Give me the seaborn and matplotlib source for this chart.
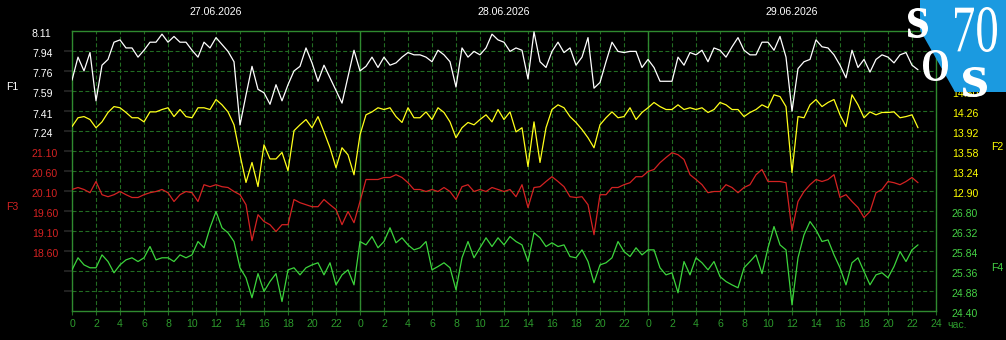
import matplotlib
matplotlib.use("Agg")
import matplotlib.pyplot as plt
import matplotlib.transforms as mtransforms
from matplotlib.font_manager import FontProperties
from matplotlib.patches import PathPatch, Polygon
from matplotlib.textpath import TextPath
import numpy as np
import seaborn as sns

# --- data (half-hour readings over three days) ---
dates = ["27.06.2026", "28.06.2026", "29.06.2026"]

f1 = [7.68, 7.88, 7.76, 7.92, 7.50, 7.81, 7.86, 8.01, 8.03, 7.96, 7.96, 7.88, 7.94, 8.01, 8.01, 8.08,
      8.01, 8.06, 8.01, 8.01, 7.94, 7.88, 8.01, 7.96, 8.05, 7.99, 7.93, 7.84, 7.29, 7.55, 7.80, 7.60,
      7.57, 7.47, 7.64, 7.50,
      7.64, 7.76, 7.80, 7.96, 7.83, 7.67, 7.81, 7.70, 7.59, 7.48, 7.71, 7.94, 7.76, 7.80, 7.88, 7.79,
      7.88, 7.81, 7.83, 7.88, 7.92, 7.90, 7.90, 7.88, 7.84, 7.94, 7.90, 7.84, 7.62, 7.96, 7.88, 7.93,
      7.90, 7.96, 8.08, 8.03,
      8.01, 7.93, 7.96, 7.94, 7.69, 8.10, 7.84, 7.79, 7.93, 8.01, 7.92, 7.96, 7.81, 7.88, 8.05, 7.61,
      7.66, 7.84, 8.01, 7.93, 7.92, 7.93, 7.93, 7.79, 7.86, 7.79, 7.67, 7.67, 7.67, 7.88, 7.81, 7.92,
      7.90, 7.94, 7.84, 7.96,
      7.94, 7.88, 7.97, 8.05, 7.94, 7.90, 7.90, 8.01, 8.01, 7.94, 8.06, 7.88, 7.41, 7.78, 7.84, 7.86,
      8.03, 7.97, 7.96, 7.90, 7.81, 7.70, 7.94, 7.79, 7.86, 7.75, 7.86, 7.90, 7.88, 7.83, 7.90, 7.92,
      7.81, 7.77]

f2 = [13.99, 14.14, 14.16, 14.11, 13.97, 14.07, 14.23, 14.33, 14.31, 14.23, 14.14, 14.14, 14.07, 14.24,
      14.24, 14.28, 14.31, 14.16, 14.28, 14.16, 14.14, 14.31, 14.31, 14.28, 14.45, 14.36, 14.24, 14.02,
      13.51, 13.04, 13.38, 12.97, 13.68, 13.44, 13.44, 13.55,
      13.24, 13.92, 14.02, 14.11, 13.97, 14.16, 13.90, 13.63, 13.29, 13.63, 13.51, 13.17, 13.85, 14.19,
      14.24, 14.31, 14.28, 14.31, 14.16, 14.06, 14.31, 14.14, 14.14, 14.24, 14.11, 14.31, 14.23, 14.07,
      13.80, 13.97, 14.06, 14.02, 14.11, 14.19, 14.07, 14.28,
      14.11, 14.24, 13.90, 13.97, 13.31, 14.07, 13.38, 13.97, 14.28, 14.36, 14.31, 14.16, 14.06, 13.94,
      13.80, 13.63, 14.02, 14.14, 14.24, 14.14, 14.16, 14.31, 14.11, 14.23, 14.31, 14.40, 14.33, 14.28,
      14.28, 14.36, 14.28, 14.31, 14.28, 14.31, 14.23, 14.28,
      14.40, 14.36, 14.28, 14.28, 14.16, 14.23, 14.28, 14.36, 14.31, 14.53, 14.50, 14.33, 13.21, 14.16,
      14.14, 14.36, 14.45, 14.33, 14.40, 14.45, 14.19, 13.99, 14.53, 14.36, 14.14, 14.24, 14.19, 14.23,
      14.23, 14.24, 14.14, 14.16, 14.19, 13.97]

f3 = [20.13, 20.18, 20.13, 20.05, 20.33, 20.00, 19.95, 20.00, 20.08, 20.00, 19.93, 19.93, 20.00, 20.05,
      20.08, 20.13, 20.05, 19.83, 20.00, 20.08, 20.05, 19.83, 20.25, 20.20, 20.25, 20.20, 20.18, 20.08,
      20.00, 19.75, 18.85, 19.50, 19.33, 19.25, 19.08, 19.25,
      19.25, 19.88, 19.80, 19.75, 19.70, 19.70, 19.88, 19.75, 19.63, 19.25, 19.58, 19.30, 19.83, 20.38,
      20.38, 20.38, 20.43, 20.43, 20.50, 20.43, 20.30, 20.13, 20.13, 20.08, 20.13, 20.08, 20.18, 20.08,
      19.88, 20.20, 20.25, 20.08, 20.13, 20.08, 20.18, 20.13,
      20.08, 20.13, 19.95, 20.25, 19.68, 20.18, 20.20, 20.33, 20.45, 20.33, 20.20, 19.95, 19.93, 19.95,
      19.75, 19.00, 20.00, 20.00, 20.18, 20.18, 20.25, 20.30, 20.45, 20.45, 20.58, 20.63, 20.80, 20.93,
      21.05, 21.00, 20.88, 20.50, 20.38, 20.25, 20.05, 20.08,
      20.08, 20.25, 20.18, 20.05, 20.18, 20.25, 20.50, 20.63, 20.33, 20.33, 20.33, 20.30, 19.10, 19.83,
      20.08, 20.25, 20.38, 20.33, 20.38, 20.50, 19.93, 20.00, 19.83, 19.68, 19.43, 19.58, 20.05, 20.13,
      20.33, 20.30, 20.25, 20.33, 20.43, 20.30]

f4 = [25.38, 25.67, 25.50, 25.43, 25.43, 25.74, 25.58, 25.31, 25.50, 25.62, 25.67, 25.58, 25.67, 25.94,
      25.62, 25.67, 25.67, 25.58, 25.74, 25.67, 25.74, 26.06, 25.91, 26.39, 26.78, 26.39, 26.27, 26.06,
      25.43, 25.19, 24.71, 25.29, 24.86, 25.10, 25.29, 24.62,
      25.38, 25.43, 25.26, 25.43, 25.50, 25.55, 25.26, 25.55, 25.02, 25.26, 25.38, 25.02, 26.06, 25.98,
      26.18, 25.91, 26.06, 26.39, 26.03, 26.15, 25.98, 25.86, 25.91, 26.06, 25.38, 25.46, 25.55, 25.43,
      24.90, 25.67, 26.06, 25.67, 25.91, 26.15, 25.94, 26.15,
      25.98, 26.18, 26.06, 25.98, 25.58, 26.27, 26.15, 25.94, 26.03, 25.94, 25.98, 25.70, 25.67, 25.86,
      25.58, 25.07, 25.50, 25.55, 25.67, 26.06, 25.82, 25.70, 25.91, 25.74, 25.86, 25.86, 25.43, 25.26,
      25.31, 24.83, 25.58, 25.26, 25.67, 25.55, 25.38, 25.58,
      25.22, 25.10, 25.02, 24.95, 25.43, 25.58, 25.74, 25.29, 25.91, 26.42, 25.98, 25.86, 24.54, 25.67,
      26.22, 26.54, 26.34, 26.06, 26.10, 25.74, 25.43, 25.02, 25.55, 25.67, 25.34, 25.02, 25.26, 25.31,
      25.19, 25.46, 25.82, 25.58, 25.86, 25.98]

f1_ticks = [8.11, 7.94, 7.76, 7.59, 7.41, 7.24]
f3_ticks = [21.10, 20.60, 20.10, 19.60, 19.10, 18.60]
f2_ticks = [14.60, 14.26, 13.92, 13.58, 13.24, 12.90]
f4_ticks = [26.80, 26.32, 25.84, 25.36, 24.88, 24.40]
hour_ticks = list(range(0, 73, 2))
hour_labels = [str(h % 24) for h in hour_ticks[:-1]] + ["24"]

# --- colours ---
GRID = "#226c22"
FRAME = "#2f8a2f"
XLAB = "#2c9a2c"
C1, C2, C3, C4 = "#ffffff", "#ffff1a", "#d42222", "#3cd43c"
L2, L3, L4 = "#ffff00", "#d42222", "#44d044"

sns.set_theme(style="dark", rc={"axes.facecolor": "black", "figure.facecolor": "black"})
plt.rcParams["font.family"] = ["Liberation Sans", "DejaVu Sans"]

fig = plt.figure(figsize=(10.06, 3.40), dpi=100)
ax = fig.add_axes([72 / 1006, 29.3 / 340, 864 / 1006, 280 / 340])
ax.set_facecolor("black")
ax.set_ylim(14, 0)
ax.set_yticks(range(1, 14))
ax.tick_params(axis="y", left=False, labelleft=False, right=False)
ax.set_xticks(hour_ticks)
ax.set_xticklabels(hour_labels)
ax.tick_params(axis="x", bottom=True, direction="out", length=2.8, width=0.8, color=GRID,
               pad=3.3, labelsize=7.6, labelcolor=XLAB)
ax.grid(True, color=GRID, linestyle=(0, (3.6, 2.2)), linewidth=0.8)
for sp in ax.spines.values():
    sp.set_color(FRAME)
    sp.set_linewidth(1.0)
for d in (24, 48):
    ax.axvline(d, color=FRAME, linewidth=1.0)

shift = mtransforms.ScaledTranslation(0, -2.5 / 100, fig.dpi_scale_trans)


def series_axis(values, lo, hi, ticks, line_color, label_color, side):
    tw = ax.twinx()
    hrs = np.arange(len(values)) * 0.5
    sns.lineplot(x=hrs, y=values, ax=tw, color=line_color, linewidth=0.9)
    tw.set_ylim(lo, hi)
    tw.set_yticks(ticks)
    tw.set_yticklabels([f"{t:.2f}" for t in ticks])
    tw.set_ylabel("")
    tw.grid(False)
    for sp in tw.spines.values():
        sp.set_visible(False)
    if side == "left":
        tw.yaxis.tick_left()
        tw.tick_params(axis="y", length=0, pad=28.8, labelsize=7.6, labelcolor=label_color)
        for lbl in tw.get_yticklabels():
            lbl.set_ha("left")
            lbl.set_transform(lbl.get_transform() + shift)
    else:
        tw.tick_params(axis="y", length=0, pad=11.5, labelsize=7.6, labelcolor=label_color)
        for lbl in tw.get_yticklabels():
            lbl.set_transform(lbl.get_transform() + shift)
    return tw


series_axis(f1, 8.11 - 14 * 0.174, 8.11, f1_ticks, C1, C1, "left")
series_axis(f3, 17.10, 24.10, f3_ticks, C3, L3, "left")
series_axis(f2, 10.86, 15.62, f2_ticks, C2, L2, "right")
series_axis(f4, 24.40, 31.12, f4_ticks, C4, L4, "right")
ax.set_xlim(0, 72)

# day captions above the grid
for i, d in enumerate(dates):
    ax.text(12 + 24 * i, 1.0668, d, transform=ax.get_xaxis_transform(), color="white",
            fontsize=7.6, ha="center", va="center")

fig.text(6 / 1006, 1 - 87 / 340, "F1", color=C1, fontsize=7.6, va="center")
fig.text(6 / 1006, 1 - 207 / 340, "F3", color=L3, fontsize=7.6, va="center")
fig.text(991 / 1006, 1 - 147 / 340, "F2", color=L2, fontsize=7.6, va="center")
fig.text(991 / 1006, 1 - 268 / 340, "F4", color=L4, fontsize=7.6, va="center")
fig.text(947 / 1006, 1 - 325 / 340, "час.", color=XLAB, fontsize=7.6, va="center")

# logo in the top-right corner
lg = fig.add_axes([0, 0, 1, 1], zorder=10)
lg.set_xlim(0, 1006)
lg.set_ylim(340, 0)
lg.axis("off")
lg.add_patch(Polygon([(920, 0), (1006, 0), (1006, 92), (955, 92), (920, 30)],
                     closed=True, facecolor="#1b9ae0", edgecolor="none"))


def glyph(s, box, weight):
    path = TextPath((0, 0), s, size=10, prop=FontProperties(family="Liberation Serif", weight=weight))
    ext = path.get_extents()
    x0, y0, x1, y1 = box
    tr = (mtransforms.Affine2D().translate(-ext.x0, -ext.y0)
          .scale((x1 - x0) / ext.width, -(y1 - y0) / ext.height).translate(x0, y1))
    lg.add_patch(PathPatch(tr.transform_path(path), facecolor="white", edgecolor="none"))


glyph("s", (908, 8, 928, 38), "bold")
glyph("70", (955, 7, 997, 52), "normal")
glyph("O", (923, 50, 948, 81), "bold")
glyph("s", (963, 67, 987, 97), "bold")

fig.savefig("out.png", dpi=100, facecolor="black")
